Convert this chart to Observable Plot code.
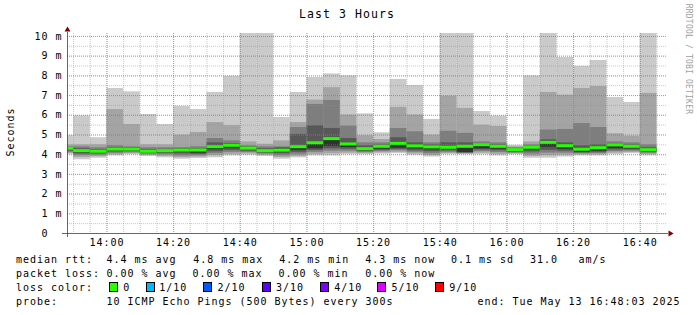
<!DOCTYPE html>
<html><head><meta charset="utf-8">
<script src="https://cdn.jsdelivr.net/npm/d3@7"></script>
<script src="https://cdn.jsdelivr.net/npm/@observablehq/plot@0.6"></script>
<style>
html,body{margin:0;padding:0;background:#fff;}
body{width:697px;height:315px;overflow:hidden;position:relative;font-family:"DejaVu Sans Mono",monospace;}
#chart{position:absolute;left:0;top:0;}
.t{position:absolute;white-space:pre;font-size:10px;letter-spacing:0.98px;line-height:12px;color:#000;}
.title{position:absolute;white-space:pre;font-size:11.5px;letter-spacing:1.08px;line-height:14px;color:#000;left:299px;top:6.7px;}
.rot{position:absolute;white-space:pre;transform:translate(-50%,-50%) rotate(-90deg);}
.wm{position:absolute;white-space:pre;font-size:8px;letter-spacing:0.2px;line-height:9px;color:#a0a0a0;transform:translate(-50%,-50%) rotate(90deg);}
.box{position:absolute;box-sizing:border-box;width:9px;height:10px;border:1px solid #000;}
</style>
</head><body>
<div id="chart"></div>
<script>
// ---- data ----
const endTimes = ["13:50","13:55","14:00","14:05","14:10","14:15","14:20","14:25","14:30","14:35","14:40","14:45",
  "14:50","14:55","15:00","15:05","15:10","15:15","15:20","15:25","15:30","15:35","15:40","15:45",
  "15:50","15:55","16:00","16:05","16:10","16:15","16:20","16:25","16:30","16:35","16:40","16:45"];
// sorted ping RTTs (ms) per 5-minute step, ping1 = fastest ... ping10 = slowest
const ping1 = [4.00,3.74,3.82,3.94,4.00,3.91,3.84,3.77,3.81,3.84,3.94,3.97,3.91,3.77,3.84,3.94,3.94,4.00,4.00,4.03,4.05,3.97,3.88,4.00,4.00,4.00,3.94,4.00,3.82,3.82,3.88,3.94,3.94,4.00,4.05,3.94];
const ping2 = [4.06,3.86,3.90,4.00,4.05,3.96,3.92,3.85,3.88,3.95,4.02,4.04,3.97,3.86,3.92,4.02,4.05,4.08,4.05,4.09,4.12,4.04,3.96,4.06,4.03,4.08,4.02,4.04,3.92,3.95,3.98,4.00,4.00,4.08,4.11,4.01];
const ping3 = [4.12,3.96,3.98,4.07,4.10,4.02,4.00,3.94,3.95,4.05,4.12,4.11,4.03,3.95,4.02,4.12,4.18,4.18,4.11,4.16,4.20,4.12,4.05,4.12,4.06,4.16,4.11,4.08,4.03,4.08,4.08,4.05,4.06,4.16,4.18,4.07];
const ping4 = [4.18,4.04,4.04,4.14,4.16,4.06,4.07,4.04,4.02,4.15,4.22,4.18,4.08,4.05,4.12,4.22,4.30,4.28,4.16,4.22,4.27,4.20,4.15,4.19,4.09,4.24,4.20,4.12,4.14,4.22,4.18,4.09,4.12,4.24,4.24,4.12];
const ping5 = [4.24,4.10,4.10,4.20,4.21,4.10,4.12,4.14,4.08,4.26,4.32,4.25,4.12,4.16,4.22,4.30,4.42,4.36,4.21,4.28,4.33,4.30,4.25,4.27,4.11,4.30,4.28,4.17,4.25,4.38,4.28,4.12,4.18,4.32,4.30,4.17];
const ping6 = [4.33,4.22,4.18,4.30,4.30,4.18,4.21,4.24,4.24,4.42,4.50,4.35,4.21,4.30,4.42,4.63,4.85,4.56,4.31,4.43,4.60,4.46,4.41,4.39,4.45,4.52,4.44,4.26,4.39,4.65,4.47,4.29,4.37,4.51,4.44,4.26];
const ping7 = [4.36,4.30,4.25,4.36,4.36,4.25,4.27,4.30,4.30,4.60,4.56,4.40,4.30,4.35,5.03,5.47,5.33,4.82,4.45,4.50,4.86,4.60,4.50,4.60,4.60,4.55,4.50,4.30,4.42,4.75,4.60,4.45,4.50,4.55,4.50,4.35];
const ping8 = [4.40,4.40,4.35,4.45,4.40,4.35,4.35,4.36,4.40,4.82,4.70,4.45,4.40,4.40,5.38,6.55,6.75,5.45,4.60,4.60,5.33,5.16,4.60,5.19,5.08,4.65,4.60,4.35,4.50,5.25,5.28,5.58,5.38,4.65,4.60,4.50];
const ping9 = [4.50,4.50,4.50,6.29,5.53,4.50,4.50,4.99,5.13,5.63,5.47,4.65,4.53,4.70,5.63,6.77,7.40,6.01,4.96,4.77,6.40,6.01,4.99,6.97,6.35,5.50,5.43,4.40,4.65,7.16,7.02,7.36,7.46,5.06,4.94,7.11];
const ping10 = [4.97,5.97,4.86,7.36,7.19,6.04,5.53,6.46,6.29,7.16,7.98,10.40,10.40,5.89,7.16,7.92,8.10,8.00,6.07,5.11,7.82,7.51,5.79,10.40,10.40,6.19,5.96,4.48,8.00,10.40,8.93,8.49,8.78,6.90,6.65,10.40];
const medianRtt = [4.30,4.18,4.15,4.26,4.26,4.15,4.18,4.21,4.21,4.38,4.45,4.31,4.18,4.21,4.38,4.58,4.79,4.52,4.28,4.40,4.55,4.42,4.37,4.35,4.40,4.48,4.40,4.23,4.35,4.60,4.43,4.25,4.33,4.47,4.40,4.23];
const yTicks = [0,1,2,3,4,5,6,7,8,9,10];

const titleText = "Last 3 Hours";
const yLabel = "Seconds";
const watermark = "RRDTOOL / TOBI OETIKER";
const rttItems = ["median rtt:","4.4 ms avg","4.8 ms max","4.2 ms min","4.3 ms now","0.1 ms sd","31.0","am/s"];
const lossItems = ["packet loss:","0.00 % avg","0.00 % max","0.00 % min","0.00 % now"];
const lossColorLabel = "loss color:";
const lossLabels = ["0","1/10","2/10","3/10","4/10","5/10","9/10"];
const lossColors = ["#26ff00","#00b8ff","#0059ff","#5e00ff","#7e00ff","#dd00ff","#ff0000"];
const probeItems = ["probe:","10 ICMP Echo Pings (500 Bytes) every 300s","end: Tue May 13 16:48:03 2025"];

// ---- build ----
const at = (hm, s = 0) => { const [h, m] = hm.split(":").map(Number); return new Date(Date.UTC(2025, 4, 13, h, m, s)); };
const pings = [ping1, ping2, ping3, ping4, ping5, ping6, ping7, ping8, ping9, ping10];
const bars = endTimes.map((t, i) => ({end: at(t), start: new Date(+at(t) - 300000), median: medianRtt[i], i}));
const x0 = at("13:48", 10), x1 = at("16:48", 10);
const minorX = d3.utcMinute.every(5).range(x0, x1);
const majorX = d3.utcMinute.every(20).range(x0, x1);
const minorY = d3.range(0.5, 10.01, 0.5);
const majorY = d3.range(1, 11, 1);
const shades = ["#cacaca", "#a4a4a4", "#7e7e7e", "#585858", "#323232"];

const smoke = shades.map((fill, k) => Plot.rect(bars, {
  x1: "start", x2: "end",
  y1: d => pings[k][d.i], y2: d => pings[9 - k][d.i],
  fill, clip: true
}));

const chart = Plot.plot({
  width: 697, height: 250,
  marginLeft: 67, marginRight: 30, marginTop: 33, marginBottom: 17,
  style: {fontFamily: "DejaVu Sans Mono", fontSize: "10px", letterSpacing: "0.98px", background: "transparent", color: "#000", overflow: "visible"},
  x: {type: "utc", domain: [x0, x1], ticks: majorX, tickFormat: d3.utcFormat("%H:%M"), tickSize: 0, tickPadding: 5, label: null},
  y: {domain: [0, 10.15], ticks: yTicks, tickFormat: d => d === 0 ? "0\u00a0\u00a0" : `${d} m`, tickSize: 0, tickPadding: 5, label: null},
  marks: [
    ...smoke,
    Plot.rect(bars, {x1: "start", x2: "end", y1: d => d.median - 0.076, y2: d => d.median + 0.076, fill: lossColors[0], clip: true}),
    Plot.ruleY(minorY, {stroke: "#8f8f8f", strokeOpacity: 0.5, strokeDasharray: "1,1"}),
    Plot.ruleX(minorX, {stroke: "#8f8f8f", strokeOpacity: 0.5, strokeDasharray: "1,1"}),
    Plot.ruleY(majorY, {stroke: "#de5050", strokeOpacity: 0.55, strokeDasharray: "1,1"}),
    Plot.ruleX(majorX, {stroke: "#de5050", strokeOpacity: 0.55, strokeDasharray: "1,1"}),
    Plot.ruleY([0], {x1: at("13:46", 40), x2: at("16:48", 28), stroke: "#2c4d43", strokeOpacity: 0.8}),
    Plot.ruleX([x0], {y1: -0.2, y2: 10.2, stroke: "#2c4d43", strokeOpacity: 0.8}),
    Plot.dot([0], {x: at("16:48", 59), y: 0, symbol: "triangle", r: 2.2, rotate: 90, fill: "#7f0000", stroke: null}),
    Plot.dot([0], {x: x0, y: 10.335, symbol: "triangle", r: 2.2, fill: "#7f0000", stroke: null})
  ]
});
document.getElementById("chart").appendChild(chart);

// ---- text overlays (title, axis label, legend) ----
function addText(str, left, top, cls = "t") {
  const el = document.createElement("div");
  el.className = cls; el.textContent = str;
  el.style.left = left + "px"; el.style.top = top + "px";
  document.body.appendChild(el); return el;
}
addText(titleText, 299, 6.7, "title");
const yl = addText(yLabel, 11, 131.5, "t rot");
addText(watermark, 688, 59, "wm");

const rttLeft = [16, 106.6, 193.3, 279.3, 365.3, 451, 530, 578.6];
rttItems.forEach((s, i) => addText(s, rttLeft[i], 254));
const lossLeft = [16, 106.6, 192.6, 278.6, 365.3];
lossItems.forEach((s, i) => addText(s, lossLeft[i], 268));
addText(lossColorLabel, 16, 281.5);
const boxLeft = [108.5, 145.5, 203, 261.5, 319.8, 377, 434.8];
const lblLeft = [123.3, 159.3, 217.6, 276, 334.3, 391.6, 449.3];
lossLabels.forEach((s, i) => {
  const b = document.createElement("div");
  b.className = "box"; b.style.left = boxLeft[i] + "px"; b.style.top = "281.5px"; b.style.background = lossColors[i];
  document.body.appendChild(b);
  addText(s, lblLeft[i], 281.5);
});
const probeLeft = [16, 106.6, 477.6];
probeItems.forEach((s, i) => addText(s, probeLeft[i], 295.5));
</script>
</body></html>
